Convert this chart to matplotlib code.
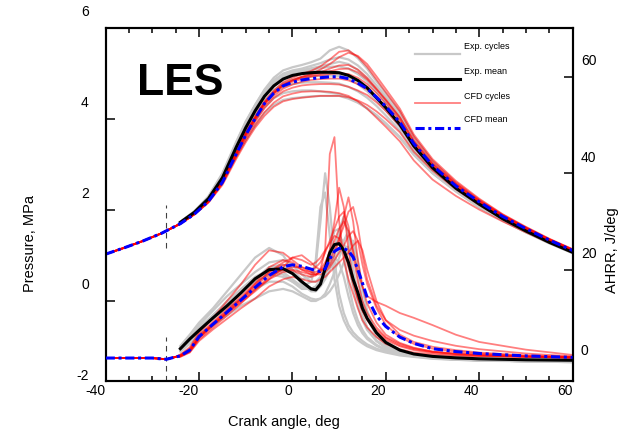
import matplotlib
matplotlib.use("Agg")
import matplotlib.pyplot as plt
from matplotlib.ticker import MultipleLocator
from matplotlib.transforms import ScaledTranslation

plt.rcParams["font.family"] = ["Liberation Sans", "DejaVu Sans"]
plt.rcParams["axes.unicode_minus"] = False

# crank angle grids (deg)
CA_CFD_HEAD = [-40, -36, -32, -28]
CA_P = [-24, -21, -18, -15, -12, -10, -8, -6, -4, -2, 0, 2, 4, 6, 8, 10, 12, 14, 16, 18,
        20, 23, 26, 30, 35, 40, 45, 50, 55, 60]
CA_HR_HEAD = [-40, -30, -27, -25]
CA_HR = [-24, -22, -20, -17, -14, -11, -8, -5, -2, 0, 2, 4, 5, 6, 7, 8, 9, 10,
         11, 12, 13, 14, 15, 16, 18, 20, 23, 26, 30, 35, 40, 50, 60]

# pressure, MPa
P_CFD_HEAD = [1.02, 1.16, 1.31, 1.48]
P_EXP_MEAN = [1.72, 1.94, 2.24, 2.70, 3.38, 3.80, 4.17, 4.49, 4.72, 4.87, 4.95, 4.99, 5.01, 5.02, 5.02,
              5.01, 4.95, 4.84, 4.68, 4.46, 4.24, 3.87, 3.40, 2.92, 2.47, 2.12, 1.80, 1.53, 1.28, 1.06]
P_CFD_MEAN = [1.69, 1.90, 2.18, 2.60, 3.23, 3.64, 4.00, 4.33, 4.56, 4.72, 4.80, 4.85, 4.88, 4.90, 4.92,
              4.92, 4.88, 4.78, 4.66, 4.47, 4.27, 3.92, 3.45, 2.97, 2.52, 2.17, 1.85, 1.58, 1.33, 1.10]
P_EXP_CYCLES = [
    [1.73, 1.96, 2.28, 2.78, 3.48, 3.92, 4.30, 4.64, 4.90, 5.06, 5.13, 5.18, 5.24, 5.32, 5.50,
     5.58, 5.50, 5.33, 5.10, 4.82, 4.55, 4.15, 3.60, 3.06, 2.57, 2.18, 1.85, 1.57, 1.31, 1.09],
    [1.73, 1.95, 2.27, 2.76, 3.45, 3.88, 4.26, 4.58, 4.83, 4.99, 5.06, 5.10, 5.16, 5.22, 5.30,
     5.35, 5.30, 5.17, 4.98, 4.73, 4.48, 4.08, 3.55, 3.01, 2.54, 2.16, 1.83, 1.55, 1.30, 1.08],
    [1.72, 1.94, 2.25, 2.72, 3.41, 3.84, 4.20, 4.52, 4.76, 4.92, 5.00, 5.05, 5.08, 5.11, 5.14,
     5.15, 5.10, 4.98, 4.82, 4.60, 4.36, 3.98, 3.48, 2.96, 2.50, 2.13, 1.81, 1.54, 1.29, 1.07],
    [1.73, 1.96, 2.29, 2.80, 3.50, 3.94, 4.30, 4.62, 4.85, 4.97, 5.02, 5.05, 5.05, 5.03, 5.00,
     4.96, 4.88, 4.76, 4.60, 4.40, 4.18, 3.82, 3.36, 2.88, 2.45, 2.10, 1.79, 1.52, 1.28, 1.06],
    [1.72, 1.93, 2.23, 2.67, 3.33, 3.73, 4.08, 4.40, 4.62, 4.78, 4.86, 4.91, 4.93, 4.95, 4.95,
     4.94, 4.88, 4.77, 4.62, 4.42, 4.20, 3.84, 3.37, 2.90, 2.46, 2.10, 1.79, 1.52, 1.28, 1.06],
    [1.71, 1.92, 2.22, 2.65, 3.30, 3.69, 4.04, 4.34, 4.56, 4.70, 4.76, 4.79, 4.80, 4.80, 4.79,
     4.77, 4.70, 4.60, 4.46, 4.28, 4.07, 3.74, 3.30, 2.86, 2.44, 2.08, 1.78, 1.51, 1.27, 1.05],
    [1.71, 1.92, 2.20, 2.62, 3.25, 3.62, 3.96, 4.24, 4.45, 4.56, 4.60, 4.62, 4.62, 4.60, 4.57,
     4.54, 4.46, 4.36, 4.22, 4.06, 3.88, 3.58, 3.20, 2.80, 2.40, 2.05, 1.76, 1.50, 1.26, 1.05],
    [1.70, 1.91, 2.18, 2.58, 3.18, 3.53, 3.85, 4.12, 4.30, 4.41, 4.45, 4.47, 4.49, 4.50, 4.50,
     4.50, 4.44, 4.35, 4.23, 4.08, 3.90, 3.60, 3.22, 2.80, 2.40, 2.05, 1.76, 1.50, 1.26, 1.04],
    [1.72, 1.95, 2.26, 2.74, 3.44, 3.87, 4.22, 4.54, 4.78, 4.95, 5.02, 5.07, 5.11, 5.15, 5.20,
     5.25, 5.20, 5.07, 4.88, 4.65, 4.40, 4.02, 3.50, 2.98, 2.52, 2.14, 1.82, 1.54, 1.29, 1.07],
]
P_CFD_CYCLES = [
    [1.69, 1.90, 2.19, 2.63, 3.27, 3.70, 4.05, 4.38, 4.62, 4.80, 4.90, 4.98, 5.05, 5.15, 5.30,
     5.47, 5.50, 5.36, 5.14, 4.86, 4.58, 4.16, 3.60, 3.07, 2.60, 2.22, 1.89, 1.61, 1.35, 1.12],
    [1.69, 1.90, 2.18, 2.62, 3.24, 3.66, 4.00, 4.33, 4.56, 4.74, 4.84, 4.92, 4.98, 5.08, 5.20,
     5.35, 5.45, 5.38, 5.20, 4.93, 4.65, 4.22, 3.65, 3.11, 2.63, 2.24, 1.90, 1.62, 1.36, 1.13],
    [1.69, 1.90, 2.19, 2.62, 3.25, 3.68, 4.02, 4.35, 4.58, 4.76, 4.85, 4.92, 4.97, 5.02, 5.10,
     5.17, 5.18, 5.08, 4.90, 4.66, 4.42, 4.03, 3.52, 3.02, 2.57, 2.20, 1.88, 1.60, 1.35, 1.12],
    [1.69, 1.90, 2.18, 2.61, 3.23, 3.65, 4.00, 4.32, 4.55, 4.72, 4.81, 4.87, 4.92, 4.95, 4.98,
     5.00, 4.98, 4.90, 4.76, 4.56, 4.33, 3.96, 3.46, 2.98, 2.54, 2.18, 1.86, 1.59, 1.34, 1.11],
    [1.69, 1.90, 2.17, 2.60, 3.21, 3.62, 3.97, 4.28, 4.50, 4.66, 4.75, 4.81, 4.85, 4.87, 4.88,
     4.88, 4.84, 4.76, 4.64, 4.46, 4.25, 3.90, 3.41, 2.95, 2.52, 2.16, 1.85, 1.58, 1.33, 1.10],
    [1.69, 1.90, 2.17, 2.59, 3.19, 3.59, 3.93, 4.23, 4.45, 4.60, 4.68, 4.73, 4.75, 4.76, 4.76,
     4.75, 4.70, 4.62, 4.52, 4.36, 4.17, 3.84, 3.37, 2.92, 2.50, 2.15, 1.84, 1.57, 1.33, 1.10],
    [1.69, 1.90, 2.16, 2.57, 3.16, 3.53, 3.86, 4.14, 4.35, 4.49, 4.55, 4.59, 4.60, 4.60, 4.59,
     4.56, 4.50, 4.38, 4.22, 4.02, 3.82, 3.50, 3.08, 2.66, 2.30, 2.00, 1.74, 1.50, 1.27, 1.06],
    [1.69, 1.89, 2.15, 2.54, 3.12, 3.48, 3.80, 4.06, 4.26, 4.38, 4.43, 4.46, 4.48, 4.50, 4.50,
     4.50, 4.47, 4.40, 4.30, 4.16, 3.99, 3.70, 3.27, 2.86, 2.45, 2.10, 1.80, 1.55, 1.31, 1.09],
    [1.69, 1.90, 2.19, 2.62, 3.25, 3.68, 4.02, 4.35, 4.57, 4.74, 4.84, 4.90, 4.94, 4.98, 5.04,
     5.09, 5.10, 5.02, 4.86, 4.64, 4.40, 4.02, 3.50, 3.00, 2.56, 2.19, 1.87, 1.60, 1.34, 1.12],
]

# apparent heat release rate, J/deg
HR_CFD_HEAD = [1.66, 1.66, 1.40, 1.90]
HR_EXP_MEAN = [3.6, 5.6, 7.4, 10.0, 12.5, 15.2, 18.1, 20.0, 20.2, 19.2, 17.5, 16.0, 15.8,
               17.0, 20.2, 23.5, 25.2, 25.4, 24.0, 21.5, 18.0, 15.3, 12.0, 9.9, 6.9, 4.9,
               3.3, 2.5, 2.0, 1.7, 1.5, 1.3, 1.2]
HR_CFD_MEAN = [2.1, 3.3, 6.1, 8.7, 11.2, 13.7, 16.3, 18.8, 20.6, 21.0, 20.7, 20.1, 19.8,
               19.6, 20.2, 22.2, 23.8, 24.4, 24.4, 23.9, 22.6, 20.0, 17.2, 14.2, 10.4, 8.2,
               6.0, 4.7, 3.6, 3.0, 2.6, 2.1, 1.8]
HR_EXP_CYCLES = [
    [4.0, 6.0, 8.0, 10.5, 13.5, 16.0, 18.5, 20.0, 19.5, 18.0, 16.5, 17.5, 21.0, 30.0, 40.0, 33.0, 22.0,
     15.0, 11.0, 8.5, 7.0, 6.0, 5.2, 4.5, 3.6, 3.0, 2.4, 2.0, 1.6, 1.3, 1.2, 1.0, 0.9],
    [3.2, 5.0, 7.2, 9.8, 12.5, 15.3, 18.0, 20.5, 21.0, 20.0, 18.0, 18.5, 22.0, 33.0, 36.0, 27.0, 18.0,
     12.5, 9.5, 7.5, 6.3, 5.4, 4.7, 4.1, 3.3, 2.8, 2.2, 1.9, 1.5, 1.3, 1.1, 1.0, 0.8],
    [3.8, 5.8, 7.8, 10.6, 13.2, 15.8, 18.2, 19.5, 19.0, 17.5, 16.0, 16.0, 16.5, 17.5, 19.0, 21.0, 24.0,
     28.0, 31.0, 27.0, 20.0, 14.5, 10.5, 8.0, 5.2, 3.8, 2.8, 2.2, 1.7, 1.4, 1.2, 1.0, 0.9],
    [4.2, 6.5, 9.0, 12.0, 15.5, 19.0, 22.5, 24.5, 23.0, 20.0, 17.5, 16.0, 16.0, 17.0, 19.0, 22.0, 25.0,
     27.0, 25.5, 21.0, 16.5, 12.5, 9.5, 7.5, 5.2, 3.9, 2.8, 2.2, 1.8, 1.5, 1.3, 1.1, 0.9],
    [3.0, 4.6, 6.5, 8.5, 10.5, 12.5, 14.0, 15.5, 16.0, 15.5, 14.5, 13.5, 13.5, 14.0, 15.0, 17.0, 19.5,
     22.5, 25.0, 24.5, 20.0, 14.5, 10.5, 8.0, 5.3, 3.8, 2.8, 2.2, 1.7, 1.4, 1.2, 1.0, 0.9],
    [3.5, 5.5, 7.8, 10.2, 12.8, 15.5, 18.0, 20.5, 21.0, 19.5, 17.0, 15.5, 15.5, 16.5, 18.0, 20.0, 22.0,
     24.0, 26.0, 28.0, 25.0, 19.0, 13.5, 10.0, 6.2, 4.3, 3.0, 2.3, 1.8, 1.4, 1.2, 1.0, 0.8],
    [3.3, 5.2, 7.5, 10.0, 12.0, 14.0, 16.0, 17.5, 17.5, 16.5, 15.0, 14.0, 13.8, 14.0, 14.5, 15.5, 17.0,
     19.0, 21.5, 24.5, 26.0, 22.0, 16.0, 11.5, 6.5, 4.3, 3.0, 2.3, 1.8, 1.5, 1.2, 1.0, 0.9],
    [3.9, 6.2, 8.5, 11.5, 14.5, 17.0, 19.5, 21.5, 22.0, 21.0, 19.0, 17.5, 17.5, 18.5, 20.0, 21.5, 22.5,
     21.5, 18.5, 14.5, 11.0, 8.5, 6.8, 5.6, 4.2, 3.3, 2.6, 2.1, 1.7, 1.4, 1.2, 1.0, 0.9],
    [3.6, 5.4, 7.5, 10.0, 12.8, 15.5, 17.5, 19.0, 18.5, 17.5, 16.5, 16.0, 16.5, 18.0, 20.5, 24.0, 28.0,
     28.5, 23.0, 17.0, 12.5, 9.5, 7.5, 6.0, 4.4, 3.4, 2.6, 2.1, 1.7, 1.4, 1.3, 1.1, 0.9],
]
HR_CFD_CYCLES = [
    [2.1, 3.0, 5.8, 8.4, 11.0, 13.5, 16.0, 18.0, 19.5, 19.8, 19.0, 18.5, 18.8, 20.0, 24.0, 44.0, 47.5,
     30.0, 22.0, 18.0, 15.0, 12.0, 9.5, 8.0, 6.0, 4.6, 3.5, 2.8, 2.4, 2.1, 2.0, 1.9, 1.8],
    [2.3, 3.6, 6.6, 9.2, 11.8, 14.5, 17.2, 20.5, 22.0, 21.5, 20.0, 19.0, 19.0, 19.5, 21.0, 24.0, 30.0,
     37.0, 33.0, 24.0, 18.0, 14.0, 11.5, 9.8, 7.5, 5.8, 4.3, 3.5, 2.9, 2.5, 2.3, 2.0, 1.8],
    [2.0, 3.1, 5.9, 8.6, 11.0, 13.2, 15.5, 18.0, 20.5, 22.5, 23.0, 21.5, 20.5, 20.0, 20.0, 21.0, 23.0,
     26.0, 31.0, 35.0, 30.0, 22.0, 16.5, 13.0, 9.0, 6.5, 4.8, 3.8, 3.0, 2.5, 2.2, 1.9, 1.7],
    [2.2, 3.4, 6.2, 8.9, 11.5, 14.0, 16.8, 19.5, 21.0, 21.0, 20.0, 19.5, 19.5, 20.0, 21.5, 23.5, 26.0,
     28.5, 30.0, 28.0, 24.0, 19.5, 16.5, 14.5, 13.3, 12.5, 11.0, 10.0, 8.5, 6.5, 5.0, 3.4, 2.3],
    [2.0, 2.9, 5.5, 8.0, 10.5, 13.0, 15.8, 18.5, 20.0, 20.5, 20.5, 20.0, 20.5, 21.5, 23.5, 26.0, 28.5,
     31.0, 32.0, 29.0, 23.0, 17.5, 13.5, 11.0, 8.0, 6.0, 4.6, 3.7, 3.0, 2.6, 2.4, 2.0, 1.8],
    [2.4, 3.9, 7.0, 10.0, 13.5, 17.0, 21.0, 24.0, 23.5, 22.0, 20.5, 19.5, 19.0, 19.0, 19.5, 20.5, 22.0,
     23.5, 25.0, 27.0, 28.0, 26.0, 21.0, 17.0, 12.0, 8.5, 6.0, 4.6, 3.6, 3.0, 2.6, 2.1, 1.8],
    [1.9, 2.8, 5.2, 7.6, 9.8, 12.0, 14.0, 16.5, 18.0, 18.5, 18.0, 17.5, 17.5, 18.0, 18.5, 19.5, 20.5,
     21.5, 22.5, 23.5, 25.0, 26.0, 24.0, 20.0, 13.5, 9.5, 6.5, 5.0, 4.0, 3.3, 2.8, 2.2, 1.9],
    [2.1, 3.3, 6.0, 8.8, 11.3, 14.0, 17.0, 19.5, 21.5, 22.5, 22.0, 21.0, 21.5, 22.5, 24.0, 25.5, 27.0,
     26.5, 24.0, 20.5, 17.0, 14.0, 11.5, 9.5, 7.0, 5.4, 4.1, 3.3, 2.7, 2.3, 2.1, 1.9, 1.7],
    [2.2, 3.2, 6.0, 8.5, 11.0, 13.8, 16.5, 19.0, 20.0, 20.0, 19.5, 19.0, 19.0, 19.5, 20.5, 22.0, 24.0,
     26.5, 29.0, 32.0, 33.0, 29.0, 23.0, 18.0, 12.5, 9.5, 7.5, 6.3, 5.2, 4.2, 3.5, 2.6, 2.0],
]

XTICKS = [-40, -20, 0, 20, 40, 60]
P_TICKS = [-2, 0, 2, 4, 6]
HR_TICKS = [0, 20, 40, 60]

GREY = "#c8c8c8"
CFD_RED = dict(color="red", alpha=0.5, lw=1.3)
MEAN_DASH = (0, (3, 1.2, 1, 1.2))
MARK_CA = -27  # dashed marker position, deg

fig = plt.figure(figsize=(6.44, 4.41), dpi=100)
ax = fig.add_axes([0.1641, 0.1361, 0.7250, 0.8011])
ax2 = ax.twinx()

# pressure traces (left axis)
for cyc in P_EXP_CYCLES:
    ax.plot(CA_P, cyc, color=GREY, lw=1.6, zorder=1)
for cyc in P_CFD_CYCLES:
    ax.plot(CA_CFD_HEAD + CA_P, P_CFD_HEAD + cyc, zorder=2, **CFD_RED)
ax.plot(CA_P, P_EXP_MEAN, color="black", lw=2.2, zorder=3)
ax.plot(CA_CFD_HEAD + CA_P, P_CFD_HEAD + P_CFD_MEAN, color="blue", lw=2.2,
        ls=MEAN_DASH, zorder=4)

# heat release traces (right axis)
for cyc in HR_EXP_CYCLES:
    ax2.plot(CA_HR, cyc, color=GREY, lw=1.6, zorder=1)
for cyc in HR_CFD_CYCLES:
    ax2.plot(CA_HR_HEAD + CA_HR, HR_CFD_HEAD + cyc, zorder=2, **CFD_RED)
ax2.plot(CA_HR, HR_EXP_MEAN, color="black", lw=2.2, zorder=3)
ax2.plot(CA_HR_HEAD + CA_HR, HR_CFD_HEAD + HR_CFD_MEAN, color="blue", lw=2.2,
         ls=MEAN_DASH, zorder=4)

# dashed markers
ax.plot([MARK_CA, MARK_CA], [1.15, 2.1], color="0.25", lw=0.8, ls=(0, (5, 4)))
ax2.plot([MARK_CA, MARK_CA], [-3.1, 6.1], color="0.25", lw=0.8, ls=(0, (5, 4)))

ax.set_xlim(-40, 60)
ax.set_ylim(-1.77, 6.0)
ax2.set_ylim(-3.1, 70.2)

for a in (ax, ax2):
    for sp in a.spines.values():
        sp.set_linewidth(1.5)

ax.set_xticks(XTICKS, [str(v) for v in XTICKS], ha="right")
ax.xaxis.set_minor_locator(MultipleLocator(5))
ax.tick_params(axis="x", which="both", direction="in", top=True, bottom=True,
               width=1.1, labelsize=10, pad=2.5)
ax.tick_params(axis="x", which="major", length=6.5)
ax.tick_params(axis="x", which="minor", length=3.6)

ax.set_yticks([0, 2, 4, 6])
ax.tick_params(axis="y", direction="in", length=6.5, width=1.1, labelleft=False)
ax2.set_yticks([20, 40, 60])
ax2.tick_params(axis="y", direction="in", length=6.5, width=1.1, labelright=False)

# tick labels sit a little above their ticks
lift = ScaledTranslation(0, 0.155, fig.dpi_scale_trans)
for v in P_TICKS:
    ax.text(-0.036, v, str(v), transform=ax.get_yaxis_transform() + lift,
            ha="right", va="center", fontsize=10, clip_on=False)
for v in HR_TICKS:
    ax2.text(1.018, v, str(v), transform=ax2.get_yaxis_transform() + lift,
             ha="left", va="center", fontsize=10, clip_on=False)

ax.set_xlabel("Crank angle, deg", fontsize=10.5)
ax.xaxis.set_label_coords(0.382, -0.096)
ax.set_ylabel("Pressure, MPa", fontsize=10.5)
ax.yaxis.set_label_coords(-0.147, 0.39)
ax2.set_ylabel("AHRR, J/deg", fontsize=10.5)
ax2.yaxis.set_label_coords(1.069, 0.37)

ax.text(0.067, 0.8095, "LES", transform=ax.transAxes, fontsize=32,
        fontweight="bold", va="baseline", ha="left")

# hand-placed legend, text above each sample line
legend_rows = [
    ("Exp. cycles", dict(color=GREY, lw=1.6)),
    ("Exp. mean", dict(color="black", lw=2.2)),
    ("CFD cycles", CFD_RED),
    ("CFD mean", dict(color="blue", lw=2.2, ls=MEAN_DASH)),
]
line_y = [0.9256, 0.854, 0.786, 0.715]
text_y = [0.946, 0.8755, 0.8047, 0.7388]
for (label, style), ly, ty in zip(legend_rows, line_y, text_y):
    ax.plot([0.6625, 0.7588], [ly, ly], transform=ax.transAxes, **style)
    ax.text(0.7674, ty, label, transform=ax.transAxes, fontsize=6.5,
            ha="left", va="center")

fig.savefig("out.png", dpi=100)
